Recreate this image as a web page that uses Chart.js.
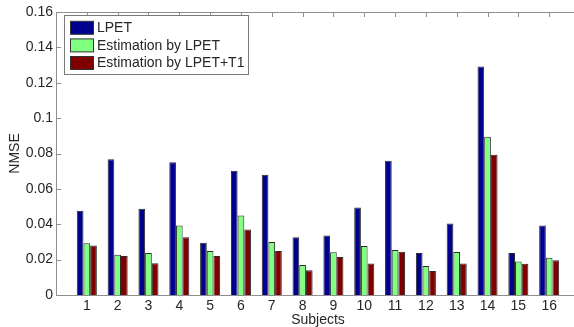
<!DOCTYPE html>
<html>
<head>
<meta charset="utf-8">
<script src="https://cdn.jsdelivr.net/npm/chart.js@4/dist/chart.umd.min.js"></script>
<style>
  html, body { margin: 0; padding: 0; background: #fff; overflow: hidden; }
  #wrap { width: 574px; height: 327px; overflow: hidden; }
  canvas { display: block; }
</style>
</head>
<body>
<div id="wrap"><canvas id="c" width="580" height="327"></canvas></div>
<script>
// NMSE per subject for the three methods
const subjects = [1, 2, 3, 4, 5, 6, 7, 8, 9, 10, 11, 12, 13, 14, 15, 16];
const lpet      = [0.0477, 0.0768, 0.0488, 0.0750, 0.0295, 0.0703, 0.0680, 0.0327, 0.0336, 0.0495, 0.0759, 0.0237, 0.0404, 0.1292, 0.0237, 0.0393];
const estLpet   = [0.0292, 0.0228, 0.0237, 0.0393, 0.0249, 0.0449, 0.0299, 0.0170, 0.0241, 0.0277, 0.0254, 0.0164, 0.0243, 0.0895, 0.0189, 0.0211];
const estLpetT1 = [0.0280, 0.0221, 0.0179, 0.0327, 0.0221, 0.0370, 0.0249, 0.0140, 0.0215, 0.0178, 0.0245, 0.0136, 0.0178, 0.0793, 0.0176, 0.0196];
const yTicks = [0, 0.02, 0.04, 0.06, 0.08, 0.1, 0.12, 0.14, 0.16];
const seriesNames = ['LPET', 'Estimation by LPET', 'Estimation by LPET+T1'];
const seriesColors = ['#00008f', '#80ff80', '#800000'];

const FONT = 'Liberation Sans, Arial, Helvetica, sans-serif';
const AXIS_GREY = '#8e8e8e';
const TEXT = '#262626';

function toPoints(vals) {
  return subjects.map((s, i) => ({ x: s, y: vals[i] }));
}

// Inward tick marks on all four sides plus the top and right edges of the box
const frameTicks = {
  id: 'frameTicks',
  beforeDatasetsDraw(chart) {
    const { ctx, chartArea: a, scales } = chart;
    const len = 5;
    ctx.save();
    ctx.strokeStyle = AXIS_GREY;
    ctx.lineWidth = 1;
    ctx.beginPath();
    scales.y.ticks.forEach(t => {
      const y = Math.round(scales.y.getPixelForValue(t.value)) + 0.5;
      ctx.moveTo(a.left, y); ctx.lineTo(a.left + len, y);
      ctx.moveTo(a.right, y); ctx.lineTo(a.right - len, y);
    });
    scales.x.ticks.forEach(t => {
      const x = Math.round(scales.x.getPixelForValue(t.value)) + 0.5;
      ctx.moveTo(x, a.top); ctx.lineTo(x, a.top + len);
      ctx.moveTo(x, a.bottom); ctx.lineTo(x, a.bottom - len);
    });
    ctx.stroke();
    ctx.beginPath();
    ctx.moveTo(a.left, Math.round(a.top) + 0.5);
    ctx.lineTo(a.right, Math.round(a.top) + 0.5);
    ctx.moveTo(Math.round(a.right) - 0.5, a.top);
    ctx.lineTo(Math.round(a.right) - 0.5, a.bottom);
    ctx.stroke();
    ctx.restore();
  }
};

// Boxed legend in the upper-left corner of the plot
const boxLegend = {
  id: 'boxLegend',
  afterDraw(chart) {
    const { ctx } = chart;
    const x0 = 64.5, y0 = 15.5, w = 184, h = 59;
    ctx.save();
    ctx.fillStyle = '#fff';
    ctx.fillRect(x0, y0, w, h);
    ctx.strokeStyle = '#7a7a7a';
    ctx.lineWidth = 1;
    ctx.strokeRect(x0, y0, w, h);
    ctx.font = '14px ' + FONT;
    ctx.textBaseline = 'middle';
    ctx.textAlign = 'left';
    chart.data.datasets.forEach((ds, i) => {
      const cy = 27.8 + i * 17.6;
      ctx.fillStyle = ds.backgroundColor;
      ctx.fillRect(70.5, cy - 6.5, 23, 13);
      ctx.strokeStyle = '#333';
      ctx.strokeRect(70.5, cy - 6.5, 23, 13);
      ctx.fillStyle = TEXT;
      ctx.fillText(ds.label, 97, cy + 0.5);
    });
    ctx.restore();
  }
};

const datasets = [lpet, estLpet, estLpetT1].map((vals, i) => ({
  label: seriesNames[i],
  data: toPoints(vals),
  backgroundColor: seriesColors[i],
  borderColor: '#2a2a2a',
  borderWidth: 1,
  borderSkipped: 'bottom',
  categoryPercentage: 0.65,
  barPercentage: 1.0
}));

new Chart(document.getElementById('c'), {
  type: 'bar',
  data: { datasets },
  plugins: [frameTicks, boxLegend],
  options: {
    responsive: false,
    animation: false,
    devicePixelRatio: 1,
    layout: { padding: { top: 12, right: 0, left: 0, bottom: 0 } },
    plugins: {
      legend: { display: false },
      tooltip: { enabled: false }
    },
    scales: {
      x: {
        type: 'linear',
        min: 0,
        max: 17,
        offset: false,
        grid: { display: false, drawTicks: false, offset: false },
        border: { display: true, color: AXIS_GREY, width: 1 },
        afterBuildTicks(scale) { scale.ticks = subjects.map(v => ({ value: v })); },
        afterFit(scale) { scale.height = 32; },
        ticks: {
          autoSkip: false,
          maxRotation: 0,
          padding: 3,
          color: TEXT,
          font: { family: FONT, size: 14 },
          callback: v => String(v)
        },
        title: {
          display: true,
          text: 'Subjects',
          color: TEXT,
          font: { family: FONT, size: 14 },
          padding: { top: 0, bottom: -1.5 }
        }
      },
      y: {
        min: 0,
        max: 0.16,
        grid: { display: false, drawTicks: false },
        border: { display: true, color: AXIS_GREY, width: 1 },
        afterBuildTicks(scale) { scale.ticks = yTicks.map(v => ({ value: v })); },
        afterFit(scale) { scale.width = 56; },
        ticks: {
          padding: 3,
          color: TEXT,
          font: { family: FONT, size: 14 },
          callback: v => String(parseFloat(Number(v).toFixed(2)))
        },
        title: {
          display: true,
          text: 'NMSE',
          color: TEXT,
          font: { family: FONT, size: 14 },
          padding: { top: 7, bottom: 0 }
        }
      }
    }
  }
});
</script>
</body>
</html>
